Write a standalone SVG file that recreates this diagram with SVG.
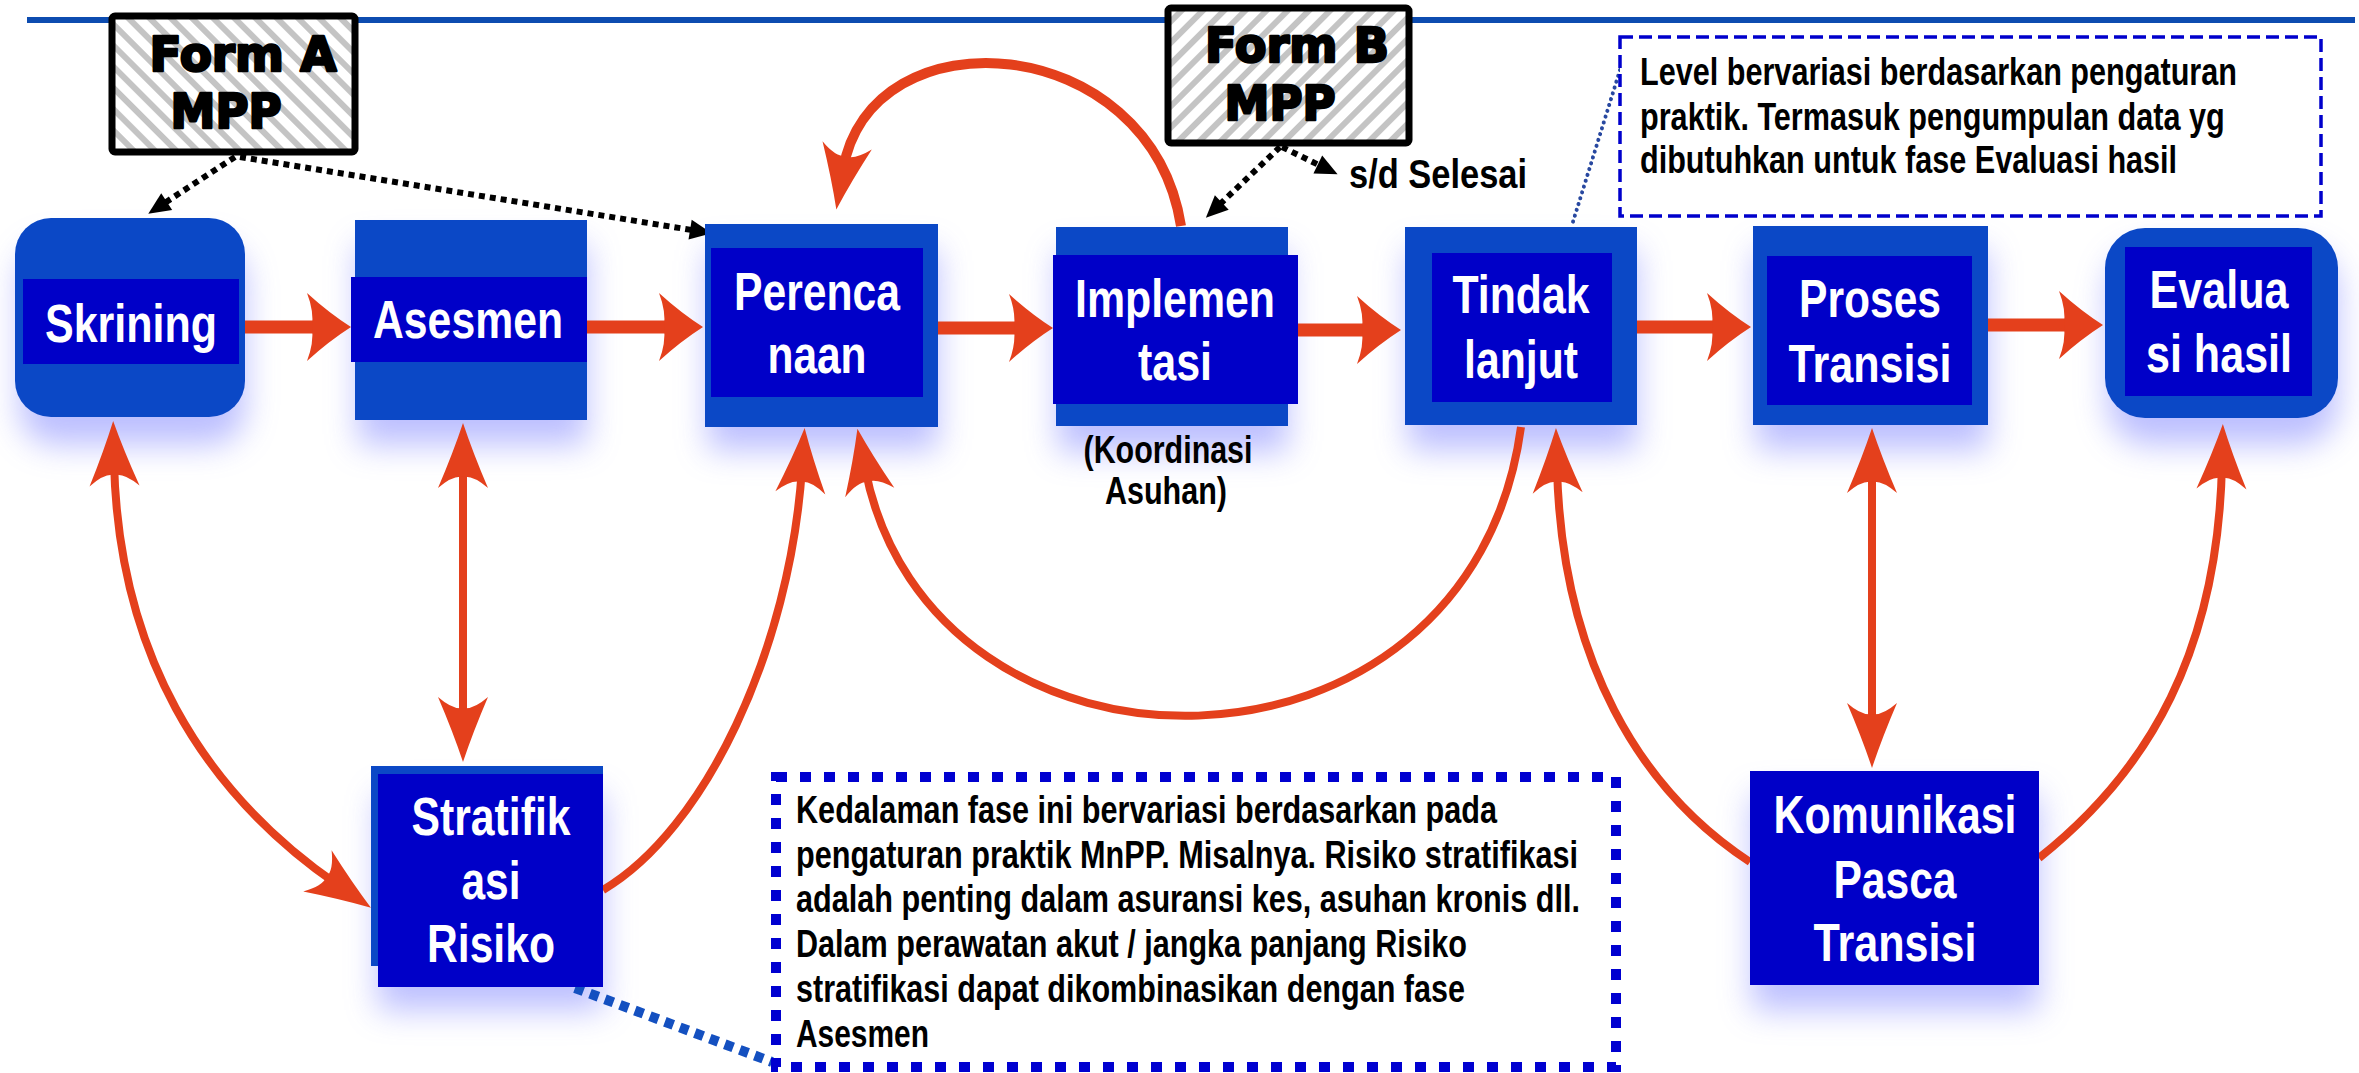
<svg xmlns="http://www.w3.org/2000/svg" width="2359" height="1073" viewBox="0 0 2359 1073">
<style>
.lbl{font-family:"Liberation Sans",Arial,sans-serif;font-weight:bold;font-size:53px;fill:#fff;text-anchor:middle}
.note{font-family:"Liberation Sans",Arial,sans-serif;font-weight:bold;font-size:38px;fill:#000}
.cap{font-family:"Liberation Sans",Arial,sans-serif;font-weight:bold;font-size:38px;fill:#000;text-anchor:middle}
.form{font-family:"DejaVu Sans","Liberation Sans",sans-serif;font-weight:bold;font-size:48px;fill:#000;stroke:#000;stroke-width:2.6;stroke-linejoin:round;text-anchor:middle}
.outer{fill:#0b48c6}
.inner{fill:#0000c8}
.glow{fill:#a0a4ff;opacity:.7;filter:url(#blur)}
.o{fill:none;stroke:#e4401c;stroke-width:8}
.oh{fill:none;stroke:#e4401c;stroke-width:13}
.dk{fill:none;stroke:#000;stroke-width:6;stroke-dasharray:6 5}
</style>
<defs>
<filter id="blur" x="-40%" y="-40%" width="180%" height="180%"><feGaussianBlur stdDeviation="16"/></filter>
<pattern id="hatchA" patternUnits="userSpaceOnUse" width="15" height="15" patternTransform="rotate(-45)">
<rect width="15" height="15" fill="#fff"/><rect width="6" height="15" fill="#c4c4c4"/></pattern>
<pattern id="hatchB" patternUnits="userSpaceOnUse" width="15" height="15" patternTransform="rotate(45)">
<rect width="15" height="15" fill="#fff"/><rect width="6" height="15" fill="#c4c4c4"/></pattern>
<marker id="ah" markerUnits="userSpaceOnUse" viewBox="-46 -36 48 72" markerWidth="48" markerHeight="72" refX="-30" refY="0" orient="auto">
<path d="M0,0 Q-22,-14 -44,-34 Q-37,-16 -39,0 Q-37,16 -44,34 Q-22,14 0,0 Z" fill="#e4401c"/></marker>
<marker id="av" markerUnits="userSpaceOnUse" viewBox="-67 -27 69 54" markerWidth="69" markerHeight="54" refX="-40" refY="0" orient="auto-start-reverse">
<path d="M0,0 Q-30,-10 -65,-25 Q-52,-10 -54,0 Q-52,10 -65,25 Q-30,10 0,0 Z" fill="#e4401c"/></marker>
<marker id="ab" markerUnits="userSpaceOnUse" viewBox="-24 -11 26 22" markerWidth="26" markerHeight="22" refX="-14" refY="0" orient="auto">
<path d="M0,0 L-22,-10 L-22,10 Z" fill="#000"/></marker>
</defs>
<rect width="2359" height="1073" fill="#fff"/>
<line x1="27" y1="20" x2="2355" y2="20" stroke="#0d4cb0" stroke-width="6"/>

<g id="shadows">
<rect class="glow" x="20" y="245" width="225" height="200" rx="35"/>
<rect class="glow" x="358" y="245" width="229" height="200"/>
<rect class="glow" x="708" y="250" width="230" height="200"/>
<rect class="glow" x="1058" y="252" width="230" height="200"/>
<rect class="glow" x="1408" y="250" width="229" height="200"/>
<rect class="glow" x="1756" y="250" width="232" height="200"/>
<rect class="glow" x="2108" y="250" width="230" height="195" rx="40"/>
<rect class="glow" x="378" y="795" width="225" height="215"/>
<rect class="glow" x="1752" y="795" width="287" height="215"/>
</g>

<g id="connectors">
<path class="oh" d="M245 327 H321" marker-end="url(#ah)"/>
<path class="oh" d="M587 327 H673" marker-end="url(#ah)"/>
<path class="oh" d="M938 328 H1023" marker-end="url(#ah)"/>
<path class="oh" d="M1298 330 H1371" marker-end="url(#ah)"/>
<path class="oh" d="M1637 327 H1721" marker-end="url(#ah)"/>
<path class="oh" d="M1988 325 H2073" marker-end="url(#ah)"/>
<path class="o" d="M463 463 V722" marker-start="url(#av)" marker-end="url(#av)"/>
<path class="o" d="M1872 468 V728" marker-start="url(#av)" marker-end="url(#av)"/>
<path class="o" d="M114 461 C118 650 200 790 338 885" marker-start="url(#av)" marker-end="url(#av)"/>
<path class="o" d="M603 890 C705 830 790 650 802 468" marker-end="url(#av)"/>
<path class="o" d="M1521 427 C1470 805 930 805 865 468" marker-end="url(#av)"/>
<path class="o" d="M1750 862 C1640 790 1562 660 1557 468" marker-end="url(#av)"/>
<path class="o" d="M2039 858 C2150 770 2218 650 2222 464" marker-end="url(#av)"/>
<path class="o" style="stroke-width:10" d="M1181 226 C1150 30 870 10 843 170" marker-end="url(#av)"/>
<path class="dk" d="M235 157 L160 206" marker-end="url(#ab)"/>
<path class="dk" d="M240 157 L698 231" marker-end="url(#ab)"/>
<path class="dk" d="M1280 147 L1216 208" marker-end="url(#ab)"/>
<path class="dk" d="M1282 147 L1325 168" marker-end="url(#ab)"/>
<path d="M1620 70 L1572 225" fill="none" stroke="#2848a0" stroke-width="4" stroke-linecap="round" stroke-dasharray="0.1 6"/>
<path d="M575 988 L772 1062" fill="none" stroke="#1450c0" stroke-width="10" stroke-dasharray="9 7"/>
</g>

<g id="form-a">
<rect x="112" y="16" width="243" height="136" rx="3" fill="url(#hatchA)" stroke="#000" stroke-width="7"/>
<text class="form" x="243" y="71" textLength="187" lengthAdjust="spacingAndGlyphs">Form A</text>
<text class="form" x="226" y="128" textLength="111" lengthAdjust="spacingAndGlyphs">MPP</text>
</g>
<g id="form-b">
<rect x="1168" y="8" width="241" height="135" rx="3" fill="url(#hatchB)" stroke="#000" stroke-width="7"/>
<text class="form" x="1297" y="62" textLength="184" lengthAdjust="spacingAndGlyphs">Form B</text>
<text class="form" x="1280" y="120" textLength="111" lengthAdjust="spacingAndGlyphs">MPP</text>
</g>
<g id="label-selesai">
<text class="note" x="1349" y="188" textLength="178" lengthAdjust="spacingAndGlyphs" style="font-size:41px">s/d Selesai</text>
</g>

<g id="skrining">
<rect class="outer" x="15" y="218" width="230" height="199" rx="36"/>
<rect class="inner" x="23" y="279" width="216" height="85"/>
<text class="lbl" x="131" y="342" textLength="172" lengthAdjust="spacingAndGlyphs">Skrining</text>
</g>
<g id="asesmen">
<rect class="outer" x="355" y="220" width="232" height="200"/>
<rect class="inner" x="351" y="277" width="236" height="85"/>
<text class="lbl" x="468" y="338" textLength="190" lengthAdjust="spacingAndGlyphs">Asesmen</text>
</g>
<g id="perencanaan">
<rect class="outer" x="705" y="224" width="233" height="203"/>
<rect class="inner" x="711" y="248" width="212" height="149"/>
<text class="lbl" x="817" y="310" textLength="166" lengthAdjust="spacingAndGlyphs">Perenca</text>
<text class="lbl" x="817" y="373" textLength="99" lengthAdjust="spacingAndGlyphs">naan</text>
</g>
<g id="implementasi">
<rect class="outer" x="1056" y="227" width="232" height="199"/>
<rect class="inner" x="1053" y="255" width="245" height="149"/>
<text class="lbl" x="1175" y="317" textLength="200" lengthAdjust="spacingAndGlyphs">Implemen</text>
<text class="lbl" x="1175" y="380" textLength="74" lengthAdjust="spacingAndGlyphs">tasi</text>
<text class="cap" x="1168" y="463" textLength="169" lengthAdjust="spacingAndGlyphs">(Koordinasi</text>
<text class="cap" x="1166" y="504" textLength="122" lengthAdjust="spacingAndGlyphs">Asuhan)</text>
</g>
<g id="tindak-lanjut">
<rect class="outer" x="1405" y="227" width="232" height="198"/>
<rect class="inner" x="1432" y="253" width="180" height="149"/>
<text class="lbl" x="1521" y="313" textLength="137" lengthAdjust="spacingAndGlyphs">Tindak</text>
<text class="lbl" x="1521" y="378" textLength="114" lengthAdjust="spacingAndGlyphs">lanjut</text>
</g>
<g id="proses-transisi">
<rect class="outer" x="1753" y="226" width="235" height="199"/>
<rect class="inner" x="1767" y="256" width="205" height="149"/>
<text class="lbl" x="1870" y="317" textLength="142" lengthAdjust="spacingAndGlyphs">Proses</text>
<text class="lbl" x="1870" y="382" textLength="163" lengthAdjust="spacingAndGlyphs">Transisi</text>
</g>
<g id="evaluasi-hasil">
<rect class="outer" x="2105" y="228" width="233" height="190" rx="40"/>
<rect class="inner" x="2125" y="247" width="187" height="149"/>
<text class="lbl" x="2219" y="308" textLength="139" lengthAdjust="spacingAndGlyphs">Evalua</text>
<text class="lbl" x="2219" y="372" textLength="146" lengthAdjust="spacingAndGlyphs">si hasil</text>
</g>
<g id="stratifikasi-risiko">
<rect class="outer" x="371" y="766" width="232" height="200"/>
<rect class="inner" x="378" y="774" width="225" height="213"/>
<text class="lbl" x="491" y="835" textLength="159" lengthAdjust="spacingAndGlyphs">Stratifik</text>
<text class="lbl" x="491" y="899" textLength="59" lengthAdjust="spacingAndGlyphs">asi</text>
<text class="lbl" x="491" y="962" textLength="128" lengthAdjust="spacingAndGlyphs">Risiko</text>
</g>
<g id="komunikasi-pasca-transisi">
<rect class="inner" x="1750" y="771" width="289" height="214"/>
<text class="lbl" x="1895" y="833" textLength="243" lengthAdjust="spacingAndGlyphs">Komunikasi</text>
<text class="lbl" x="1895" y="898" textLength="123" lengthAdjust="spacingAndGlyphs">Pasca</text>
<text class="lbl" x="1895" y="961" textLength="163" lengthAdjust="spacingAndGlyphs">Transisi</text>
</g>

<g id="note-level">
<rect x="1620" y="37" width="701" height="179" fill="#fff" stroke="#0000cc" stroke-width="3.5" stroke-dasharray="13 6"/>
<g transform="scale(0.82 1)">
<text class="note" x="2000" y="85" textLength="728" lengthAdjust="spacingAndGlyphs">Level bervariasi berdasarkan pengaturan</text>
<text class="note" x="2000" y="130" textLength="713" lengthAdjust="spacingAndGlyphs">praktik. Termasuk pengumpulan data yg</text>
<text class="note" x="2000" y="173" textLength="655" lengthAdjust="spacingAndGlyphs">dibutuhkan untuk fase Evaluasi hasil</text>
</g>
</g>
<g id="note-kedalaman">
<rect x="776" y="777" width="840" height="290" fill="#fff" stroke="#0000d0" stroke-width="10" stroke-dasharray="11 13"/>
<text class="note" x="796" y="823" textLength="701" lengthAdjust="spacingAndGlyphs">Kedalaman fase ini bervariasi berdasarkan pada</text>
<text class="note" x="796" y="868" textLength="782" lengthAdjust="spacingAndGlyphs">pengaturan praktik MnPP. Misalnya. Risiko stratifikasi</text>
<text class="note" x="796" y="912" textLength="784" lengthAdjust="spacingAndGlyphs">adalah penting dalam asuransi kes, asuhan kronis dll.</text>
<text class="note" x="796" y="957" textLength="671" lengthAdjust="spacingAndGlyphs">Dalam perawatan akut / jangka panjang Risiko</text>
<text class="note" x="796" y="1002" textLength="669" lengthAdjust="spacingAndGlyphs">stratifikasi dapat dikombinasikan dengan fase</text>
<text class="note" x="796" y="1047" textLength="133" lengthAdjust="spacingAndGlyphs">Asesmen</text>
</g>
</svg>
